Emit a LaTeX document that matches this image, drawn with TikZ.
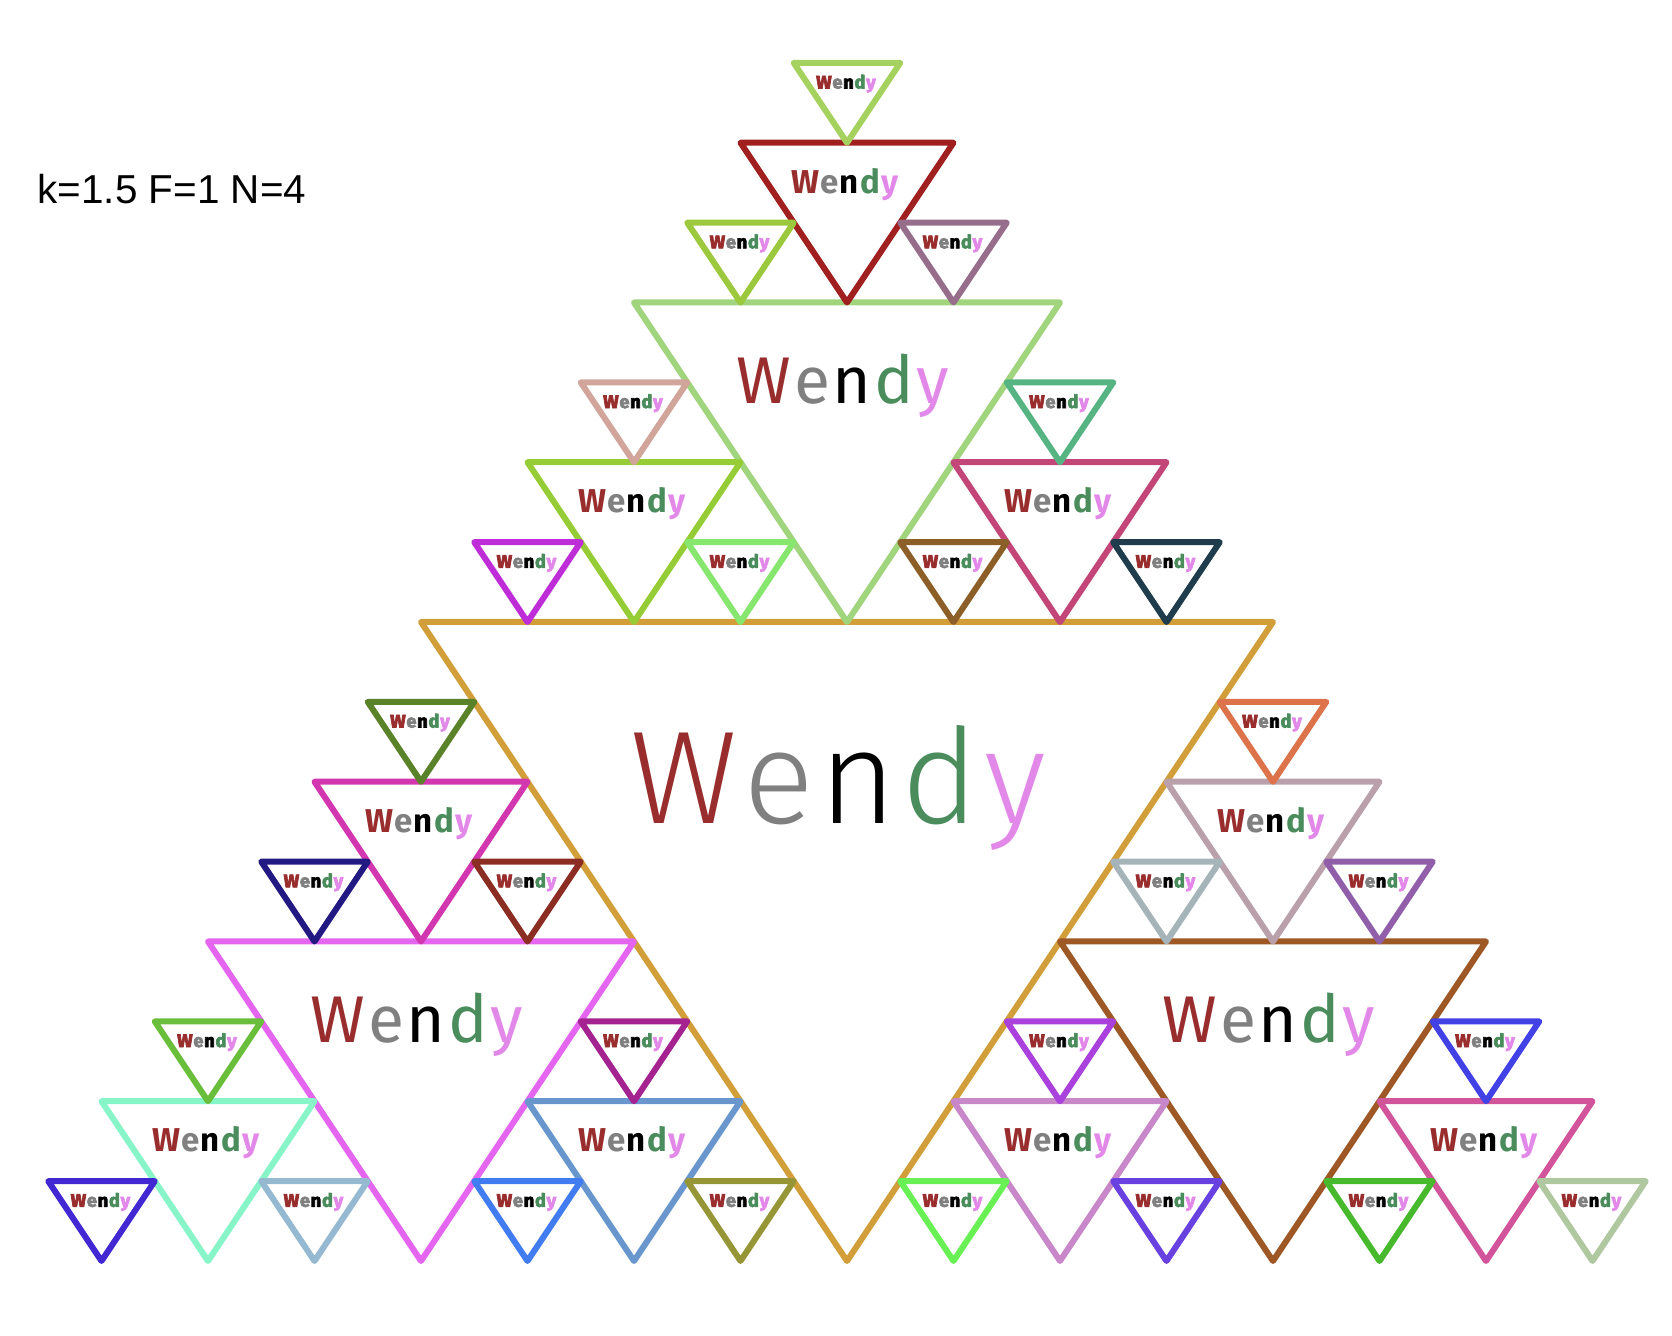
\documentclass[tikz,border=0pt]{standalone}
\usepackage{fontspec}
\setmainfont{Liberation Sans}
\newfontfamily\wendyfont{Fira Sans}
\IfFontExistsTF{Fira Sans Light}{\newfontfamily\wendythin{Fira Sans Light}}{\newfontfamily\wendythin{Fira Sans}}
\newfontfamily\wendyheavy{Fira Sans}[BoldFeatures={FakeBold=4}]

% letter colours
\definecolor{wW}{RGB}{153,45,45}
\definecolor{wE}{RGB}{128,128,128}
\definecolor{wN}{RGB}{0,0,0}
\definecolor{wD}{RGB}{74,140,92}
\definecolor{wY}{RGB}{226,136,232}

% triangle colours
\definecolor{cM}{RGB}{210,158,58}
\definecolor{cU}{RGB}{160,212,125}
\definecolor{cL}{RGB}{228,102,240}
\definecolor{cR}{RGB}{158,88,38}
\definecolor{cUU}{RGB}{160,32,32}
\definecolor{cUL}{RGB}{150,205,55}
\definecolor{cUR}{RGB}{195,70,120}
\definecolor{cLU}{RGB}{210,55,175}
\definecolor{cLL}{RGB}{135,245,200}
\definecolor{cLR}{RGB}{105,150,205}
\definecolor{cRU}{RGB}{185,160,170}
\definecolor{cRL}{RGB}{200,135,200}
\definecolor{cRR}{RGB}{210,85,155}
\definecolor{cUUU}{RGB}{165,210,95}
\definecolor{cUUL}{RGB}{155,200,60}
\definecolor{cUUR}{RGB}{150,110,140}
\definecolor{cULU}{RGB}{210,165,155}
\definecolor{cULL}{RGB}{190,45,215}
\definecolor{cULR}{RGB}{135,230,110}
\definecolor{cURU}{RGB}{85,180,130}
\definecolor{cURL}{RGB}{140,95,40}
\definecolor{cURR}{RGB}{30,60,75}
\definecolor{cLUU}{RGB}{90,130,40}
\definecolor{cLUL}{RGB}{35,25,130}
\definecolor{cLUR}{RGB}{140,45,35}
\definecolor{cLLU}{RGB}{105,190,60}
\definecolor{cLLL}{RGB}{65,40,210}
\definecolor{cLLR}{RGB}{150,185,210}
\definecolor{cLRU}{RGB}{165,35,145}
\definecolor{cLRL}{RGB}{65,125,240}
\definecolor{cLRR}{RGB}{150,150,55}
\definecolor{cRUU}{RGB}{220,115,75}
\definecolor{cRUL}{RGB}{165,180,185}
\definecolor{cRUR}{RGB}{145,95,170}
\definecolor{cRLU}{RGB}{170,65,220}
\definecolor{cRLL}{RGB}{105,240,85}
\definecolor{cRLR}{RGB}{105,65,225}
\definecolor{cRRU}{RGB}{65,65,230}
\definecolor{cRRL}{RGB}{70,185,45}
\definecolor{cRRR}{RGB}{175,200,160}

\tikzset{
	side/.style={line width=0.6mm, line join=round, line cap=round},
	wendy0/.style={font=\wendythin\fontsize{37.6}{40}\selectfont},
	wendy1/.style={font=\wendyfont\fontsize{18.8}{20}\selectfont},
	wendy2/.style={font=\wendyfont\bfseries\fontsize{9.4}{10}\selectfont},
	wendy3/.style={font=\wendyheavy\bfseries\fontsize{5.2}{6}\selectfont},
}

\newcommand{\wendyword}{\textcolor{wW}{W}\kern.04em\textcolor{wE}{e}\kern.04em\textcolor{wN}{n}\kern.04em\textcolor{wD}{d}\kern.04em\textcolor{wY}{y}}

% name, apex x, apex y, level, colour
\newcommand{\tri}[5]{%
	\pgfmathsetmacro\triw{852/2^#4}
	\draw[side, #5] (#2-\triw/2, #3-0.75*\triw) -- (#2+\triw/2, #3-0.75*\triw) -- (#2, #3) -- cycle;
	\node[inner sep=0pt, wendy#4] (#1) at (#2-0.01*\triw, #3-0.555*\triw) {\wendyword};
}

\begin{document}
\begin{tikzpicture}[x=0.1mm, y=-0.1mm]
	\useasboundingbox (0,0) rectangle (1672,1336);
	
	\node[anchor=base west, inner sep=0pt, font=\fontsize{11.5}{14}\selectfont] (params) at (37,203.6) {k=1.5 F=1 N=4};
	
	\tri{M}{847}{1261}{0}{cM}
	
	\tri{U}{847}{622}{1}{cU}
	\tri{L}{421}{1261}{1}{cL}
	\tri{R}{1273}{1261}{1}{cR}
	
	\tri{UU}{847}{302.5}{2}{cUU}
	\tri{UL}{634}{622}{2}{cUL}
	\tri{UR}{1060}{622}{2}{cUR}
	\tri{LU}{421}{941.5}{2}{cLU}
	\tri{LL}{208}{1261}{2}{cLL}
	\tri{LR}{634}{1261}{2}{cLR}
	\tri{RU}{1273}{941.5}{2}{cRU}
	\tri{RL}{1060}{1261}{2}{cRL}
	\tri{RR}{1486}{1261}{2}{cRR}
	
	\tri{UUU}{847}{142.75}{3}{cUUU}
	\tri{UUL}{740.5}{302.5}{3}{cUUL}
	\tri{UUR}{953.5}{302.5}{3}{cUUR}
	\tri{ULU}{634}{462.25}{3}{cULU}
	\tri{ULL}{527.5}{622}{3}{cULL}
	\tri{ULR}{740.5}{622}{3}{cULR}
	\tri{URU}{1060}{462.25}{3}{cURU}
	\tri{URL}{953.5}{622}{3}{cURL}
	\tri{URR}{1166.5}{622}{3}{cURR}
	\tri{LUU}{421}{781.75}{3}{cLUU}
	\tri{LUL}{314.5}{941.5}{3}{cLUL}
	\tri{LUR}{527.5}{941.5}{3}{cLUR}
	\tri{LLU}{208}{1101.25}{3}{cLLU}
	\tri{LLL}{101.5}{1261}{3}{cLLL}
	\tri{LLR}{314.5}{1261}{3}{cLLR}
	\tri{LRU}{634}{1101.25}{3}{cLRU}
	\tri{LRL}{527.5}{1261}{3}{cLRL}
	\tri{LRR}{740.5}{1261}{3}{cLRR}
	\tri{RUU}{1273}{781.75}{3}{cRUU}
	\tri{RUL}{1166.5}{941.5}{3}{cRUL}
	\tri{RUR}{1379.5}{941.5}{3}{cRUR}
	\tri{RLU}{1060}{1101.25}{3}{cRLU}
	\tri{RLL}{953.5}{1261}{3}{cRLL}
	\tri{RLR}{1166.5}{1261}{3}{cRLR}
	\tri{RRU}{1486}{1101.25}{3}{cRRU}
	\tri{RRL}{1379.5}{1261}{3}{cRRL}
	\tri{RRR}{1592.5}{1261}{3}{cRRR}
\end{tikzpicture}
\end{document}
